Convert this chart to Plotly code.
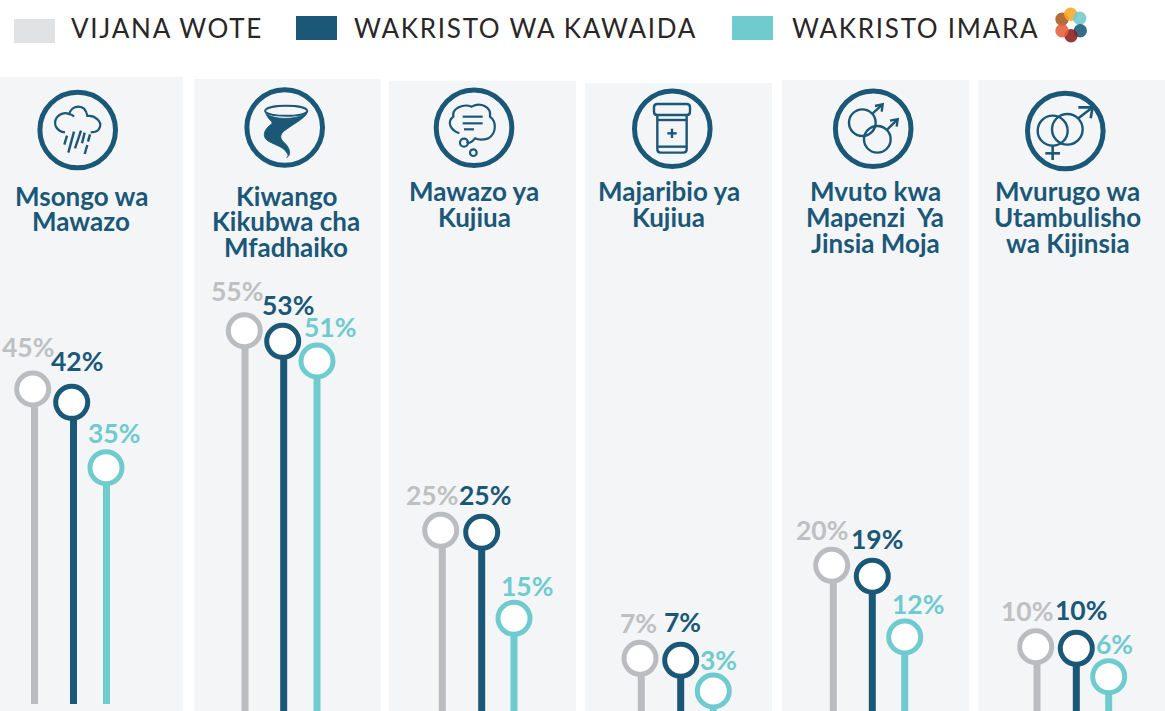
import re
import plotly.graph_objects as go

W, H = 1165, 711

# ---------- data ----------
series_names = ["VIJANA WOTE", "WAKRISTO WA KAWAIDA", "WAKRISTO IMARA"]
topics = [
    ["Msongo wa", "Mawazo"],
    ["Kiwango", "Kikubwa cha", "Mfadhaiko"],
    ["Mawazo ya", "Kujiua"],
    ["Majaribio ya", "Kujiua"],
    ["Mvuto kwa", "Mapenzi  Ya", "Jinsia Moja"],
    ["Mvurugo wa", "Utambulisho", "wa Kijinsia"],
]
# printed labels
vijana_labels = ["45%", "55%", "25%", "7%", "20%", "10%"]
kawaida_labels = ["42%", "53%", "25%", "7%", "19%", "10%"]
imara_labels = ["35%", "51%", "15%", "3%", "12%", "6%"]
# heights of the lollipops as drawn
vijana_values = [46.81, 55.26, 26.33, 7.78, 21.26, 9.46]
kawaida_values = [44.88, 53.72, 26.04, 7.49, 19.67, 9.23]
imara_values = [35.41, 50.87, 13.58, 3.04, 10.87, 5.12]

# ---------- layout constants (pixels) ----------
DARK, GREY, TEAL = "#1B5878", "#BBBCBF", "#6FCBCE"
GREY_TXT = "#BEC0C2"
PANEL = "#F4F5F7"
px_per_unit, zero_px = 6.9, 712.0

stem_x = [[34.5, 245, 442.3, 641.3, 833.3, 1037],
          [73.5, 283.7, 481.7, 680.7, 872.3, 1076.3],
          [106.5, 317, 514, 713.3, 904.7, 1108.7]]
head_x = [[32.7, 244.3, 440.7, 640, 831.7, 1035.7],
          [71.7, 282.7, 481.7, 680.7, 872.3, 1076.3],
          [106, 317, 514, 713.3, 904.7, 1108.7]]
label_xy = [[(28, 347), (237, 291), (432, 495), (638, 623), (822, 530), (1027, 611)],
            [(77, 361), (288, 305), (485, 495), (682, 622), (877, 539), (1081, 610)],
            [(114, 433), (330, 327), (527, 586), (718, 660), (918, 604), (1114, 644)]]
stem_base = [1.16, 0, 0, 0, 0, 0]
panels = [(0, 183, 77), (194, 381, 79), (389, 576, 81), (585, 772, 83), (782, 969, 80), (978, 1165, 80)]
rings = [(77.7, 130), (284.7, 127.5), (474, 127.7), (672.3, 128.7), (873.2, 128.7), (1065.3, 131)]
title_pos = [(81, [196, 221]), (286, [196, 221, 247]), (474, [191, 217]),
             (668.5, [191, 217]), (875, [191, 217, 243]), (1067.7, [191, 217, 243])]


def px(x):
    return x / W


def py(y):
    return 1 - y / H


def path_px(d, ox=0.0, oy=0.0, scale=1.0):
    """Path in pixel coords (optionally zoom-crop coords) -> paper coords."""
    toks = re.findall(r"[MLCQZ]|-?\d+\.?\d*", d)
    out, isx = [], True
    for t in toks:
        if t in "MLCQZ":
            out.append(t)
            isx = True
        else:
            v = float(t)
            if isx:
                out.append(f"{px(ox + v * scale):.5f}")
            else:
                out.append(f"{py(oy + v * scale):.5f}")
            isx = not isx
    return " ".join(out)


shapes = []


def rect(x0, y0, x1, y1, color):
    shapes.append(dict(type="rect", xref="paper", yref="paper", x0=px(x0), x1=px(x1), y0=py(y1), y1=py(y0),
                       fillcolor=color, line_width=0, layer="below"))


def circ(cx, cy, r, line=None, lw=0, fill="rgba(0,0,0,0)", opacity=1, layer="above"):
    shapes.append(dict(type="circle", xref="paper", yref="paper",
                       x0=px(cx - r), x1=px(cx + r), y0=py(cy + r), y1=py(cy - r),
                       fillcolor=fill, opacity=opacity, layer=layer,
                       line=dict(color=line or "rgba(0,0,0,0)", width=lw)))


def stroke(d, ox, oy, lw=2.2, fill="rgba(0,0,0,0)"):
    shapes.append(dict(type="path", xref="paper", yref="paper", path=path_px(d, ox, oy, 1 / 3),
                       line=dict(color=DARK, width=lw), fillcolor=fill))


# panels
for x0, x1, top in panels:
    rect(x0, top, x1, H, PANEL)

# rings
for cx, cy in rings:
    circ(cx, cy, 37.8, line=DARK, lw=5)

# legend swatches
rect(14, 19, 55, 43, "#E1E2E4")
rect(296, 16, 337, 40, DARK)
rect(732, 16, 773, 40, TEAL)

# logo
for (cx, cy, c) in [(1062, 19.3, "#A9591E"), (1070.7, 14.3, "#F7A823"), (1079.7, 18.3, "#6FCBCE"),
                    (1080.3, 30.7, "#1B5878"), (1071, 35.7, "#8A1C1C"), (1062, 30.7, "#E2603A")]:
    circ(cx, cy, 6.7, fill=c, opacity=0.88)

# icon 1: rain cloud (crop at 0,0)
o = (0, 0)
stroke("M 195 397 C 170 395 158 372 170 353 C 178 341 195 336 207 342 C 215 315 255 308 262 348 "
       "C 285 345 305 365 300 380 C 297 392 285 397 272 397", *o)
stroke("M 207 342 C 213 343 219 346 222 350", *o)
for seg in ["M 193 434 L 201 407", "M 205 458 L 222 395", "M 225 445 L 243 392",
            "M 246 430 L 254 398", "M 254 462 L 262 435", "M 264 425 L 270 403"]:
    stroke(seg, *o, lw=2.4)

# icon 2: tornado
stroke("M 795 333 C 800 312 918 312 922 333 C 918 352 800 352 795 333 Z", *o, lw=1.8)
stroke("M 797 340 C 805 360 820 365 815 372 C 795 385 785 405 800 420 C 815 432 850 440 858 455 "
       "C 866 465 866 470 860 472 C 875 465 870 445 855 430 C 845 420 835 410 850 395 "
       "C 875 375 915 355 922 338 C 905 352 870 355 855 355 C 830 355 810 350 797 340 Z",
       *o, lw=0.8, fill=DARK)

# icon 3: thought bubble (crop at 400,70)
o = (400, 70)
stroke("M 178 190 C 150 180 140 155 160 140 C 155 115 190 100 215 110 C 240 95 275 110 270 140 "
       "C 290 155 290 190 265 205 C 250 210 235 210 225 205 C 215 218 205 222 200 215", *o)
circ(400 + 192 / 3, 70 + 218 / 3, 12 / 3, line=DARK, lw=2.2)
circ(400 + 220 / 3, 70 + 248 / 3, 10 / 3, line=DARK, lw=2.2)
for seg in ["M 188 140 L 248 140", "M 188 160 L 248 160", "M 192 178 L 222 178"]:
    stroke(seg, *o)

# icon 4: pill bottle
stroke("M 772 102 L 860 102 Q 870 102 870 112 L 870 125 Q 870 135 860 135 L 772 135 Q 762 135 762 125 "
       "L 762 112 Q 762 102 772 102 Z", *o, lw=2.4)
stroke("M 772 135 L 772 238 Q 772 248 782 248 L 850 248 Q 860 248 860 238 L 860 135", *o, lw=2.4)
stroke("M 772 150 L 860 150", *o, lw=2.4)
stroke("M 772 230 L 860 230", *o, lw=2.4)
stroke("M 802 190 L 830 190", *o, lw=2.4)
stroke("M 816 176 L 816 204", *o, lw=2.4)

# icon 5: two male symbols (crop at 780,0)
o = (780, 0)
circ(780 + 247 / 3, 368 / 3, 40 / 3, line=DARK, lw=2.4)
circ(780 + 292 / 3, 418 / 3, 40 / 3, line=DARK, lw=2.4)
for seg in ["M 278 340 L 308 313", "M 285 318 L 308 313 L 305 335",
            "M 322 388 L 353 358", "M 330 362 L 353 358 L 350 380"]:
    stroke(seg, *o, lw=2.4)

# icon 6: female and male
circ(780 + 818 / 3, 392 / 3, 45 / 3, line=DARK, lw=2.4)
circ(780 + 862 / 3, 388 / 3, 46 / 3, line=DARK, lw=2.4)
for seg in ["M 818 437 L 818 480", "M 796 460 L 840 460", "M 895 355 L 938 322", "M 895 322 L 938 322 L 932 355"]:
    stroke(seg, *o, lw=2.6)

# ---------- traces ----------
fig = go.Figure()
values = [vijana_values, kawaida_values, imara_values]
labels = [vijana_labels, kawaida_labels, imara_labels]
colors = [GREY, DARK, TEAL]
txt_colors = [GREY_TXT, DARK, "#6FCBCE"]

for s in range(3):
    fig.add_trace(go.Bar(
        x=stem_x[s], y=[v - b for v, b in zip(values[s], stem_base)], base=stem_base, width=7,
        marker=dict(color=colors[s], line_width=0), name=series_names[s], showlegend=False, hoverinfo="skip"))
for s in range(3):
    fig.add_trace(go.Scatter(
        x=head_x[s], y=values[s], mode="markers", name=series_names[s], showlegend=False,
        customdata=labels[s], hovertemplate="%{customdata}<extra>" + series_names[s] + "</extra>",
        marker=dict(size=32, color="white", line=dict(color=colors[s], width=5))))

# ---------- text ----------
ann = []
LATO = "Lato, sans-serif"


def text(t, x, y, size, color, anchor="center", bold=False):
    ann.append(dict(text=f"<b>{t}</b>" if bold else t, xref="paper", yref="paper", x=px(x), y=py(y),
                    xanchor=anchor, yanchor="middle", showarrow=False, align=anchor, borderpad=0, borderwidth=0,
                    font=dict(family=LATO, size=size, color=color)))


for s in range(3):
    for i, lab in enumerate(labels[s]):
        lx, ly = label_xy[s][i]
        text(lab, lx, ly, 26.5, txt_colors[s], bold=True)

for (cx, ys), lines in zip(title_pos, topics):
    for yy, line in zip(ys, lines):
        text(line.replace("  ", "\u00a0 "), cx, yy, 26, DARK, bold=True)

for name, lx in zip(series_names, [71, 354, 792]):
    text(name, lx, 28, 26, "#2A2627", anchor="left")

fig.update_layout(
    width=W, height=H, margin=dict(l=0, r=0, t=0, b=0, pad=0),
    paper_bgcolor="white", plot_bgcolor="rgba(0,0,0,0)", barmode="overlay", showlegend=False,
    xaxis=dict(range=[0, W], visible=False, fixedrange=True),
    yaxis=dict(range=[(zero_px - H) / px_per_unit, zero_px / px_per_unit], visible=False, fixedrange=True),
    shapes=shapes, annotations=ann,
)

post = """
document.body.style.margin='0';
document.documentElement.style.overflow='hidden';
document.querySelectorAll('.annotation-text').forEach(function(t){
  if(/^(VIJANA|WAKRISTO)/.test(t.textContent)){ t.style.letterSpacing='1.72px'; }
});
"""
fig.write_html("out.html", post_script=post, config={"displayModeBar": False})
